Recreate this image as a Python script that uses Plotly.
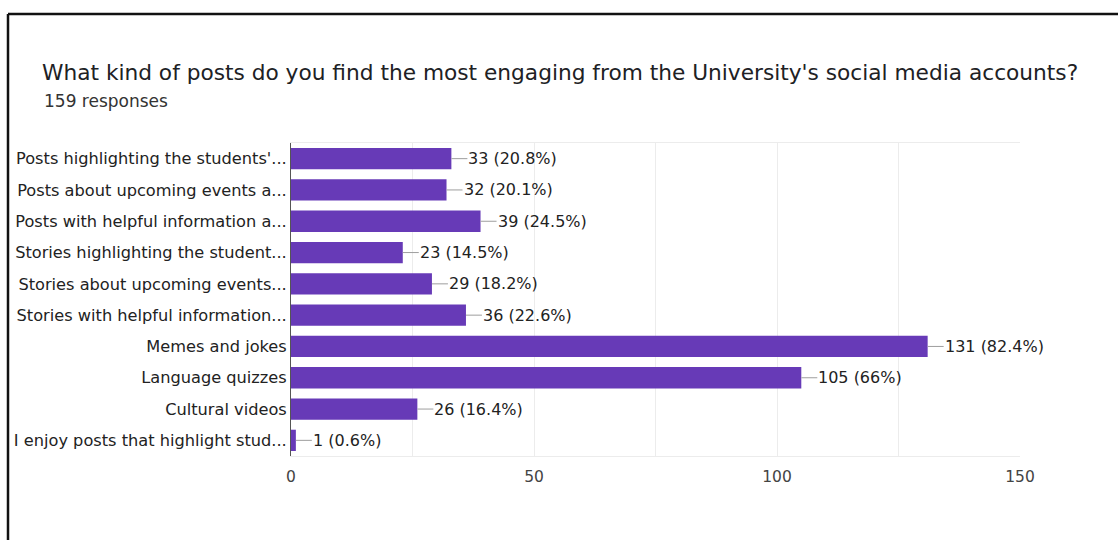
import plotly.graph_objects as go

categories = [
    "Posts highlighting the students'...",
    "Posts about upcoming events a...",
    "Posts with helpful information a...",
    "Stories highlighting the student...",
    "Stories about upcoming events...",
    "Stories with helpful information...",
    "Memes and jokes",
    "Language quizzes",
    "Cultural videos",
    "I enjoy posts that highlight stud...",
]
counts = [33, 32, 39, 23, 29, 36, 131, 105, 26, 1]
pct_labels = ["20.8%", "20.1%", "24.5%", "14.5%", "18.2%", "22.6%", "82.4%", "66%", "16.4%", "0.6%"]
x_ticks = [0, 50, 100, 150]

title_text = "What kind of posts do you find the most engaging from the University's social media accounts?"
subtitle_text = "159 responses"

W, H = 1118, 540
ML, MR, MT, MB = 291, 98, 143, 84
PW, PH = W - ML - MR, H - MT - MB

def px_x(p):
    return (p - ML) / PW

def px_y(p):
    return (H - MB - p) / PH

LABEL_FONT = "DejaVu Sans, sans-serif"

fig = go.Figure()
fig.add_trace(go.Bar(
    y=categories, x=counts, orientation="h",
    marker=dict(color="#673ab7", line=dict(width=0)),
    width=0.68, hoverinfo="skip",
))

for c, v, p in zip(categories, counts, pct_labels):
    fig.add_annotation(
        x=v, y=c, xref="x", yref="y",
        text=f"{v} ({p})", showarrow=True, arrowhead=0, arrowwidth=1,
        arrowcolor="#9e9e9e", ax=16, ay=0, xanchor="left", yanchor="middle",
        font=dict(family=LABEL_FONT, size=16, color="#222222"),
        borderpad=0,
    )

fig.add_annotation(
    x=px_x(42), y=px_y(101), xref="paper", yref="paper",
    text=subtitle_text, showarrow=False, xanchor="left", yanchor="middle",
    font=dict(family=LABEL_FONT, size=17, color="#333333"),
)

# frame lines of the screenshot
fig.add_shape(type="line", xref="paper", yref="paper",
              x0=px_x(8), x1=px_x(1130), y0=px_y(14), y1=px_y(14),
              line=dict(color="#111111", width=2.5))
fig.add_shape(type="line", xref="paper", yref="paper",
              x0=px_x(8), x1=px_x(8), y0=px_y(14), y1=px_y(560),
              line=dict(color="#111111", width=2.5))

fig.update_layout(
    width=W, height=H,
    margin=dict(l=ML, r=MR, t=MT, b=MB, autoexpand=False),
    paper_bgcolor="white", plot_bgcolor="white",
    showlegend=False,
    title=dict(
        text=title_text, x=42 / W, xanchor="left", y=1 - 72 / H, yanchor="middle",
        font=dict(family=LABEL_FONT, size=21.7, color="#202124"),
    ),
    xaxis=dict(
        range=[0, 150], tickvals=x_ticks, ticktext=[str(t) for t in x_ticks],
        showgrid=True, gridcolor="#ececec", gridwidth=1,
        minor=dict(dtick=25, tick0=0, showgrid=True, gridcolor="#ececec", gridwidth=1, ticks=""),
        zeroline=False, showline=True, mirror=True, linecolor="#ececec", linewidth=1,
        ticks="", ticklabelstandoff=6,
        tickfont=dict(family=LABEL_FONT, size=15.5, color="#444444"),
        fixedrange=True,
    ),
    yaxis=dict(
        categoryorder="array", categoryarray=categories, autorange="reversed",
        showgrid=False, zeroline=False, showline=True, linecolor="#555555", linewidth=1,
        ticks="", ticklabelstandoff=0,
        tickfont=dict(family=LABEL_FONT, size=16.2, color="#222222"),
        fixedrange=True,
    ),
)

fig.write_html("out.html", config={"displayModeBar": False})
